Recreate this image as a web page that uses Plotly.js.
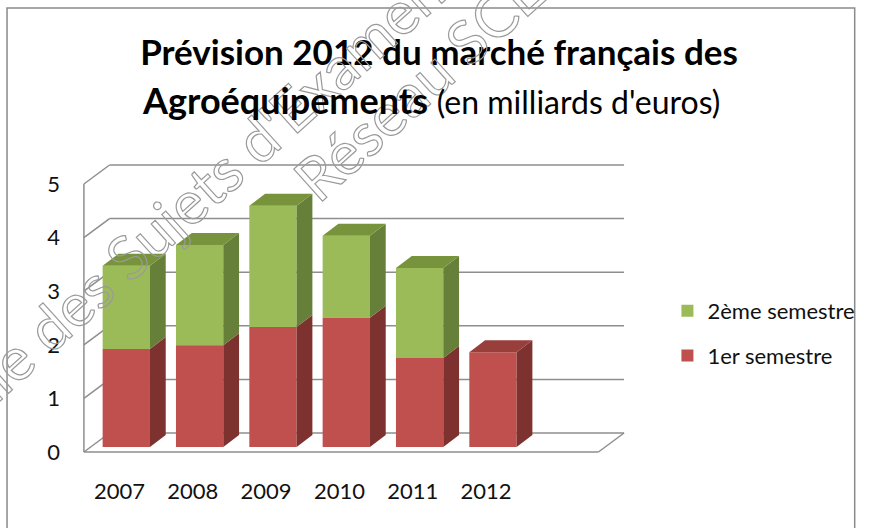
<!DOCTYPE html>
<html>
<head>
<meta charset="utf-8">
<script src="https://cdn.plot.ly/plotly-3.0.1.min.js"></script>
<style>
  html, body { margin: 0; padding: 0; background: #ffffff; overflow: hidden; width: 872px; height: 528px; }
  #chart { width: 872px; height: 528px; }
</style>
</head>
<body>
<div id="chart"></div>
<script>
// ---------------- data ----------------
const years = ['2007', '2008', '2009', '2010', '2011', '2012'];
const sem1 = [1.83, 1.90, 2.24, 2.41, 1.66, 1.77];   // 1er semestre
const sem2 = [1.55, 1.87, 2.26, 1.53, 1.68, 0];      // 2ème semestre
const seriesNames = ['1er semestre', '2ème semestre'];
const yTicks = [0, 1, 2, 3, 4, 5];
const titleLine1 = 'Prévision 2012 du marché français des';
const titleLine2a = 'Agroéquipements';
const titleLine2b = "(en milliards d'euros)";
const wmLine1 = "Base Nationale des Sujets d'Examens";
const wmLine2 = 'Réseau SCEREN';

// ---------------- geometry (pixels) ----------------
const W = 872, H = 528;
const plotL = 78, plotR = 636, plotT = 156, plotB = 456;
const catPx = 74.4, cat0Px = 120, unitPx = 53.6, zeroPx = 452;
const xd = px => (px - cat0Px) / catPx;       // absolute px -> x data
const dx = p => p / catPx;                     // px length -> x data
const dy = p => p / unitPx;                    // px length -> y data
const paperX = px => (px - plotL) / (plotR - plotL);
const paperY = py => (plotB - py) / (plotB - plotT);
const xRange = [xd(plotL), xd(plotR)];
const yRange = [(zeroPx - plotB) / unitPx, (zeroPx - plotT) / unitPx];

const C = {
  redFront: '#C0504D', redSide: '#7D3230', redTop: '#983E3B',
  grnFront: '#9BBB59', grnSide: '#66803A', grnTop: '#77933C',
  grid: '#8e8e8e'
};
const FONT = 'Lato, "Open Sans", sans-serif';

// ---------------- 3D box (walls / gridlines) ----------------
const shapes = [];
const seg = (x0, y0, x1, y1) => shapes.push({type: 'line', xref: 'x', yref: 'y', x0, y0, x1, y1,
  layer: 'below', line: {color: C.grid, width: 1.5}});
const fx0 = xd(84), fx1 = xd(606), bx0 = xd(110), bx1 = xd(632), wdy = dy(19);
const yMax = yTicks[yTicks.length - 1];
yTicks.forEach(v => { seg(bx0, v + wdy, bx1, v + wdy); seg(fx0, v, bx0, v + wdy); });
seg(fx0, 0, fx0, yMax);
seg(fx0, 0, fx1, 0);
seg(fx1, 0, bx1, wdy);
// outer chart frame
shapes.push({type: 'rect', xref: 'paper', yref: 'paper',
  x0: paperX(6), x1: paperX(866), y0: paperY(545), y1: paperY(8),
  line: {color: '#8a8a8a', width: 1.5}, layer: 'below'});

// ---------------- bars ----------------
const idx = years.map((_, i) => i);
const offX = dx(7), offY = dy(5);            // bar front plane inside the depth
const depX = dx(16), depY = dy(12);          // bar depth
const bw = 48 / catPx;
const xc = idx.map(i => i + offX);
const base1 = sem1.map(() => offY);
const top1 = sem1.map(v => v + offY);
const top2 = sem1.map((v, i) => v + sem2[i] + offY);

function polyTrace(polys, color) {
  const X = [], Y = [];
  polys.forEach(p => {
    p.forEach(([a, b]) => { X.push(a); Y.push(b); });
    X.push(p[0][0]); Y.push(p[0][1]);
    X.push(null); Y.push(null);
  });
  return {type: 'scatter', mode: 'lines', x: X, y: Y, fill: 'toself', fillcolor: color,
    line: {width: 0, color: color}, hoverinfo: 'skip', showlegend: false, connectgaps: false};
}
const side = (i, b, t) => {
  const r = xc[i] + bw / 2;
  return [[r, b], [r + depX, b + depY], [r + depX, t + depY], [r, t]];
};
const topFace = (i, t) => {
  const l = xc[i] - bw / 2, r = xc[i] + bw / 2;
  return [[l, t], [l + depX, t + depY], [r + depX, t + depY], [r, t]];
};
const redSides = idx.map(i => side(i, base1[i], top1[i]));
const grnSides = idx.filter(i => sem2[i] > 0).map(i => side(i, top1[i], top2[i]));
const grnTops = idx.filter(i => sem2[i] > 0).map(i => topFace(i, top2[i]));
const redTops = idx.filter(i => !(sem2[i] > 0)).map(i => topFace(i, top1[i]));

const data = [
  {type: 'bar', name: seriesNames[1], x: xc, y: sem2, base: top1, width: bw,
   marker: {color: C.grnFront, line: {width: 0}}, legendgroup: 'g2', hoverinfo: 'skip'},
  {type: 'bar', name: seriesNames[0], x: xc, y: sem1, base: base1, width: bw,
   marker: {color: C.redFront, line: {width: 0}}, legendgroup: 'g1', hoverinfo: 'skip'},
  polyTrace(redSides, C.redSide),
  polyTrace(grnSides, C.grnSide),
  polyTrace(grnTops, C.grnTop),
  polyTrace(redTops, C.redTop)
];

// ---------------- watermark placement ----------------
const wmFont = 60, wmAng = 42, rad = wmAng * Math.PI / 180;
const ctx = document.createElement('canvas').getContext('2d');
ctx.font = wmFont + 'px Lato';
const mw = s => ctx.measureText(s).width;
function wmCenter(text, sub, anchor) {
  const k = text.indexOf(sub);
  const off = mw(text) / 2 - (mw(text.slice(0, k)) + mw(text[k]) / 2);
  return [anchor[0] + off * Math.cos(rad), anchor[1] - off * Math.sin(rad)];
}
const c1 = wmCenter(wmLine1, 'Exam', [291, 108]);
const c2 = wmCenter(wmLine2, 'Réseau', [323, 175]);
const wmAnn = (txt, c) => ({text: txt, xref: 'paper', yref: 'paper', x: paperX(c[0]), y: paperY(c[1]),
  xanchor: 'center', yanchor: 'middle', showarrow: false, textangle: -wmAng,
  font: {family: FONT, size: wmFont, color: '#9a9a9a'}});

const layout = {
  width: W, height: H,
  margin: {l: plotL, r: W - plotR, t: plotT, b: H - plotB, pad: 0},
  paper_bgcolor: '#ffffff', plot_bgcolor: 'rgba(0,0,0,0)',
  barmode: 'overlay',
  showlegend: true,
  title: {text: titleLine1, font: {family: FONT, size: 35, weight: 'bold', color: '#000'},
    xref: 'container', yref: 'container', x: 439 / W, xanchor: 'center', y: 1 - 53 / H, yanchor: 'middle'},
  xaxis: {range: xRange, tickmode: 'array', tickvals: idx, ticktext: years, showgrid: false,
    zeroline: false, showline: false, ticks: '', ticklabelstandoff: 20,
    tickfont: {family: FONT, size: 22, color: '#111'}, fixedrange: true},
  yaxis: {range: yRange, tickmode: 'array', tickvals: yTicks, ticktext: yTicks.map(String),
    showgrid: false, zeroline: false, showline: false, ticks: '', ticklabelstandoff: 17,
    tickfont: {family: FONT, size: 22, color: '#111'}, fixedrange: true},
  legend: {x: paperX(676), xanchor: 'left', y: paperY(290), yanchor: 'top',
    traceorder: 'grouped', tracegroupgap: 13, bgcolor: 'rgba(0,0,0,0)',
    font: {family: FONT, size: 22, color: '#111'}},
  shapes: shapes,
  annotations: [
    wmAnn(wmLine1, c1),
    wmAnn(wmLine2, c2),
    {text: titleLine2a + ' <span style="font-size:32px;font-weight:normal">' + titleLine2b + '</span>',
     xref: 'paper', yref: 'paper', x: paperX(436), y: paperY(100), xanchor: 'center', yanchor: 'middle',
     showarrow: false, font: {family: FONT, size: 36, weight: 'bold', color: '#000'}}
  ]
};

Plotly.newPlot('chart', data, layout, {displayModeBar: false, staticPlot: true}).then(gd => {
  gd.querySelectorAll('.annotation').forEach(g => {
    const i = +g.getAttribute('data-index');
    if (i < 2) {
      const t = g.querySelector('text');
      if (t) {
        t.style.setProperty('fill', 'none');
        t.style.setProperty('stroke', '#9a9a9a');
        t.style.setProperty('stroke-width', '1.2');
      }
    }
  });
});
</script>
</body>
</html>
